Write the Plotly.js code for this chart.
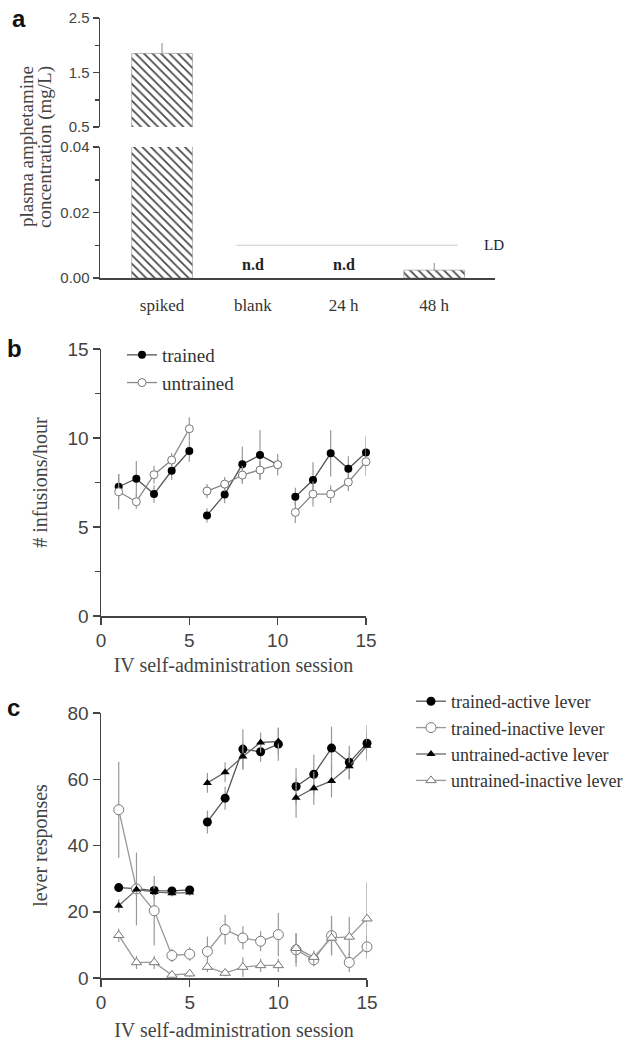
<!DOCTYPE html>
<html>
<head>
<meta charset="utf-8">
<script src="https://cdn.plot.ly/plotly-3.0.1.min.js"></script>
<style>html,body{margin:0;padding:0;background:#fff}#chart{width:636px;height:1041px}</style>
</head>
<body>
<div id="chart"></div>
<script>
// ---------- Panel a data ----------
const categoriesA = ['spiked', 'blank', '24 h', '48 h'];
const concA = [1.85, null, null, 0.0024];
const concErrA = [0.19, null, null, 0.0022];
const ndCategories = ['blank', '24 h'];
const LD = 0.01;
const titleALines = ['plasma amphetamine', 'concentration (mg/L)'];

// ---------- Panel b data ----------
const sessions = [1, 2, 3, 4, 5, 6, 7, 8, 9, 10, 11, 12, 13, 14, 15];
const infTrained    = [7.26, 7.71, 6.85, 8.16, 9.27, 5.65, 6.83, 8.52, 9.04, 8.5, 6.7, 7.64, 9.14, 8.27, 9.19];
const infTrainedErr = [0.7, 1.0, 0.5, 0.5, 0.6, 0.4, 0.5, 1.0, 1.4, 0.3, 0.5, 1.0, 1.3, 0.7, 0.9];
const infUntrained    = [6.98, 6.42, 7.94, 8.76, 10.52, 7.02, 7.41, 7.92, 8.2, 8.5, 5.82, 6.85, 6.85, 7.52, 8.67];
const infUntrainedErr = [1.0, 0.4, 0.5, 0.4, 0.65, 0.4, 0.4, 0.5, 0.5, 0.6, 0.6, 0.7, 0.5, 0.5, 0.8];

// ---------- Panel c data ----------
const trainedActive      = [27.3, 27.0, 26.4, 26.3, 26.6, 47.1, 54.3, 69.1, 68.3, 70.6, 57.8, 61.5, 69.4, 65.1, 70.9];
const trainedActiveErr   = [1, 1, 1, 1, 1, 3.5, 3.5, 6, 3, 5, 5.5, 6, 6.5, 5, 5.5];
const trainedInactive    = [50.8, 26.9, 20.3, 6.8, 7.2, 8.0, 14.6, 12.1, 11.1, 13.1, 8.5, 5.5, 12.8, 4.7, 9.4];
const trainedInactiveErr = [14.5, 11, 10.5, 2, 2, 4.5, 4.5, 3.5, 3, 6.5, 5, 2, 6, 3, 3.5];
const untrainedActive    = [21.8, 26.7, 26.0, 25.6, 25.8, 58.9, 62.1, 66.9, 71.1, 71.4, 54.4, 57.3, 59.5, 63.9, 70.1];
const untrainedActiveErr = [2, 2, 2, 1, 1, 3, 3, 4, 3, 4, 6, 5, 5, 4, 4];
const untrainedInactive    = [12.9, 4.7, 4.7, 0.9, 1.3, 3.3, 1.5, 3.3, 3.8, 3.8, 9.0, 6.3, 12.1, 12.4, 17.9];
const untrainedInactiveErr = [2, 2, 2, 1, 1, 1.5, 1, 3, 2, 2, 4.5, 2, 5, 6, 11];

const blocks = [[0, 5], [5, 10], [10, 15]];

// ---------- helpers ----------
const W = 636, H = 1041;
const xd = (a, b) => [a / W, b / W];
const yd = (top, bottom) => [1 - bottom / H, 1 - top / H];

const serif = 'Liberation Serif, Times New Roman, serif';
const sans = 'Liberation Sans, Arial, sans-serif';
const tickFont = {family: sans, size: 19, color: '#444'};
const titleFont = {family: serif, size: 20, color: '#444'};
const axisBase = {
  showline: true, linecolor: '#444', linewidth: 1.5, ticks: 'outside', ticklen: 7,
  tickcolor: '#444', tickwidth: 1.5, showgrid: false, zeroline: false, fixedrange: true,
  tickfont: tickFont, automargin: false
};

const traces = [];

// ----- Panel a bars (bottom segment and top segment of the broken axis) -----
const pattern = {shape: '\\', size: 6, solidity: 0.28, fgcolor: '#444', bgcolor: '#fff'};
const errA = {type: 'data', symmetric: false, array: concErrA, arrayminus: concErrA.map(() => 0),
  color: '#888', thickness: 1, width: 0};
traces.push({type: 'bar', x: categoriesA, y: concA, xaxis: 'x', yaxis: 'y', width: 0.67,
  marker: {color: '#fff', pattern: pattern, line: {width: 0.5, color: '#777'}},
  error_y: errA, showlegend: false, hoverinfo: 'skip'});
traces.push({type: 'bar', x: categoriesA, y: concA, xaxis: 'x2', yaxis: 'y2', width: 0.67,
  marker: {color: '#fff', pattern: pattern, line: {width: 0.5, color: '#777'}},
  error_y: errA, showlegend: false, hoverinfo: 'skip'});

// ----- line series helper -----
function addSeries(name, y, err, opts) {
  blocks.forEach(([s, e], i) => {
    traces.push({
      type: 'scatter', mode: 'lines+markers', name: name,
      x: sessions.slice(s, e), y: y.slice(s, e),
      error_y: {type: 'data', array: err.slice(s, e), color: '#999', thickness: 1.2, width: 0},
      xaxis: opts.xaxis, yaxis: opts.yaxis, legend: opts.legend, legendgroup: name,
      showlegend: i === 0, cliponaxis: false,
      line: {color: opts.lineColor, width: 1.3},
      marker: {symbol: opts.symbol, size: opts.size, color: opts.fill,
               line: {color: opts.mline, width: opts.mlineWidth}}
    });
  });
}

// Panel b
addSeries('trained', infTrained, infTrainedErr, {xaxis: 'x3', yaxis: 'y3', legend: 'legend',
  lineColor: '#555', symbol: 'circle', size: 8, fill: '#000', mline: '#000', mlineWidth: 0});
addSeries('untrained', infUntrained, infUntrainedErr, {xaxis: 'x3', yaxis: 'y3', legend: 'legend',
  lineColor: '#888', symbol: 'circle', size: 8, fill: '#fff', mline: '#777', mlineWidth: 1});

// Panel c
addSeries('trained-active lever', trainedActive, trainedActiveErr, {xaxis: 'x4', yaxis: 'y4', legend: 'legend2',
  lineColor: '#555', symbol: 'circle', size: 9, fill: '#000', mline: '#000', mlineWidth: 0});
addSeries('trained-inactive lever', trainedInactive, trainedInactiveErr, {xaxis: 'x4', yaxis: 'y4', legend: 'legend2',
  lineColor: '#999', symbol: 'circle', size: 10, fill: '#fff', mline: '#777', mlineWidth: 1});
addSeries('untrained-active lever', untrainedActive, untrainedActiveErr, {xaxis: 'x4', yaxis: 'y4', legend: 'legend2',
  lineColor: '#666', symbol: 'triangle-up', size: 8, fill: '#000', mline: '#000', mlineWidth: 0});
addSeries('untrained-inactive lever', untrainedInactive, untrainedInactiveErr, {xaxis: 'x4', yaxis: 'y4', legend: 'legend2',
  lineColor: '#999', symbol: 'triangle-up', size: 9, fill: '#fff', mline: '#777', mlineWidth: 1});

const catRange = [-0.684, 3.67];
const smallTick = Object.assign({}, tickFont, {size: 15});

const layout = {
  width: W, height: H, margin: {l: 0, r: 0, t: 0, b: 0},
  paper_bgcolor: '#fff', plot_bgcolor: 'rgba(0,0,0,0)',
  barmode: 'overlay',
  // Panel a
  xaxis: Object.assign({}, axisBase, {domain: xd(100, 495), anchor: 'y', type: 'category',
    range: catRange, ticks: 'outside', ticklen: 11, tickcolor: 'rgba(0,0,0,0)',
    tickfont: {family: serif, size: 17, color: '#333'}}),
  xaxis2: {domain: xd(100, 495), anchor: 'y2', type: 'category', range: catRange, matches: 'x', visible: false, fixedrange: true},
  yaxis: Object.assign({}, axisBase, {domain: yd(147, 278), anchor: 'x', range: [0, 0.04], dtick: 0.02,
    tickformat: '.2f', tickfont: smallTick, ticklen: 6,
    minor: {dtick: 0.01, ticks: 'outside', ticklen: 4, tickcolor: '#444', tickwidth: 1.5}}),
  yaxis2: Object.assign({}, axisBase, {domain: yd(18, 127), anchor: 'x2', range: [0.5, 2.5], dtick: 1, tick0: 0.5,
    tickformat: '.1f', tickfont: smallTick, ticklen: 6,
    minor: {dtick: 0.5, tick0: 0, ticks: 'outside', ticklen: 4, tickcolor: '#444', tickwidth: 1.5}}),
  // Panel b
  xaxis3: Object.assign({}, axisBase, {domain: xd(101, 366), anchor: 'y3', range: [0, 15], dtick: 5,
    title: {text: 'IV self-administration session', font: titleFont, standoff: 7}}),
  yaxis3: Object.assign({}, axisBase, {domain: yd(349, 616), anchor: 'x3', range: [0, 15], dtick: 5,
    minor: {dtick: 2.5, ticks: 'outside', ticklen: 5, tickcolor: '#444', tickwidth: 1.5},
    title: {text: '# infusions/hour', font: titleFont, standoff: 14}}),
  // Panel c
  xaxis4: Object.assign({}, axisBase, {domain: xd(101, 367), anchor: 'y4', range: [0, 15], dtick: 5,
    title: {text: 'IV self-administration session', font: titleFont, standoff: 18}}),
  yaxis4: Object.assign({}, axisBase, {domain: yd(713, 978), anchor: 'x4', range: [0, 80], dtick: 20,
    title: {text: 'lever responses', font: titleFont, standoff: 14}}),
  legend: {x: 122 / W, y: 1 - 336 / H, xanchor: 'left', yanchor: 'top', bgcolor: 'rgba(0,0,0,0)',
    font: {family: serif, size: 19, color: '#333'}, tracegroupgap: 0},
  legend2: {x: 411 / W, y: 1 - 683 / H, xanchor: 'left', yanchor: 'top', bgcolor: 'rgba(0,0,0,0)',
    font: {family: serif, size: 18, color: '#333'}, tracegroupgap: 0},
  shapes: [
    {type: 'line', xref: 'x', yref: 'y', x0: 0.82, x1: 3.26, y0: LD, y1: LD, line: {color: '#ccc', width: 1.2}}
  ],
  annotations: [
    // broken-axis title for panel a (two rotated lines)
    ...titleALines.map((t, i) => ({xref: 'paper', yref: 'paper', x: (26 + 19 * i) / W, y: 1 - 147 / H,
      xanchor: 'center', yanchor: 'middle', textangle: -90, text: t, showarrow: false,
      font: {family: serif, size: 19, color: '#444'}})),
    {xref: 'x', yref: 'y', x: 3.53, y: LD, text: 'LD', showarrow: false, xanchor: 'left',
     font: {family: serif, size: 15, color: '#222'}},
    ...ndCategories.map(c => ({xref: 'x', yref: 'y', x: c, y: 0, yanchor: 'bottom', yshift: 3, text: '<b>n.d</b>',
      showarrow: false, font: {family: serif, size: 16, color: '#222'}})),
    {xref: 'paper', yref: 'paper', x: 10 / W, y: 1 - 3 / H, xanchor: 'left', yanchor: 'top', text: '<b>a</b>', showarrow: false,
     font: {family: sans, size: 24, color: '#111'}},
    {xref: 'paper', yref: 'paper', x: 5 / W, y: 1 - 333 / H, xanchor: 'left', yanchor: 'top', text: '<b>b</b>', showarrow: false,
     font: {family: sans, size: 24, color: '#111'}},
    {xref: 'paper', yref: 'paper', x: 5 / W, y: 1 - 692 / H, xanchor: 'left', yanchor: 'top', text: '<b>c</b>', showarrow: false,
     font: {family: sans, size: 24, color: '#111'}}
  ]
};

Plotly.newPlot('chart', traces, layout, {staticPlot: true, displayModeBar: false});
</script>
</body>
</html>
